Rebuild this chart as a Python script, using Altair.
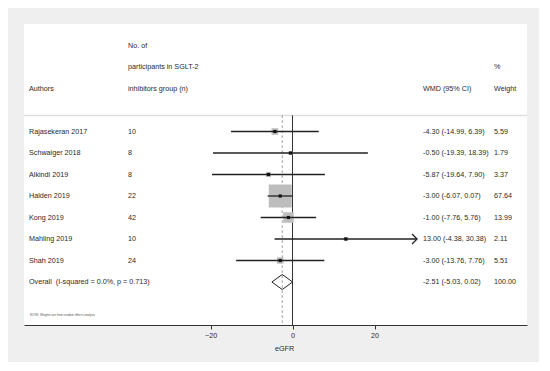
import altair as alt
import pandas as pd

authors = ["Rajasekeran 2017", "Schwaiger 2018", "Alkindi 2019", "Halden 2019",
           "Kong 2019", "Mahling 2019", "Shah 2019"]
n_sglt2 = [10, 8, 8, 22, 42, 10, 24]
wmd = [-4.30, -0.50, -5.87, -3.00, -1.00, 13.00, -3.00]
ci_lo = [-14.99, -19.39, -19.64, -6.07, -7.76, -4.38, -13.76]
ci_hi = [6.39, 18.39, 7.90, 0.07, 5.76, 30.38, 7.76]
weight = [5.59, 1.79, 3.37, 67.64, 13.99, 2.11, 5.51]

overall_label = "Overall\u00a0\u00a0(I-squared = 0.0%, p = 0.713)"
overall_est, overall_lo, overall_hi, overall_w = -2.51, -5.03, 0.02, 100.00

header_authors = ["Authors"]
header_n = ["No. of", "participants in SGLT-2", "inhibitors group (n)"]
header_wmd = ["WMD (95% CI)"]
header_w = ["%", "Weight"]
note = "NOTE: Weights are from random effects analysis"
x_ticks = [-20, 0, 20]

rows = list(range(len(authors)))
df = pd.DataFrame({
    "row": rows, "author": authors, "n": [str(v) for v in n_sglt2],
    "wmd": wmd, "lo": ci_lo, "hi": ci_hi, "weight": weight,
    "ci_text": [f"{w:.2f} ({l:.2f}, {h:.2f})" for w, l, h in zip(wmd, ci_lo, ci_hi)],
    "w_text": [f"{w:.2f}" for w in weight],
})
ov_row = len(authors)
ov = pd.DataFrame({
    "row": [ov_row], "label": [overall_label],
    "ci_text": [f"{overall_est:.2f} ({overall_lo:.2f}, {overall_hi:.2f})"],
    "w_text": [f"{overall_w:.2f}"],
})
half = 0.35
diamond = pd.DataFrame({
    "x": [overall_lo, overall_est, overall_hi, overall_est, overall_lo],
    "y": [ov_row, ov_row - half, ov_row, ov_row + half, ov_row],
    "o": [0, 1, 2, 3, 4],
})

sep_row = -0.75
bottom_row = 9
xs = alt.Scale(domain=[-65.5, 57.2], nice=False, zero=False)
ys = alt.Scale(domain=[-5, 9], reverse=True, nice=False, zero=False)

txt_color = "#2a2a2a"
fs = 7.2
FONT = "Liberation Sans"

xaxis = alt.Axis(values=x_ticks, grid=False, domainColor="#333333", tickColor="#333333",
                 tickSize=4, labelFontSize=fs, labelColor=txt_color, labelPadding=2,
                 title="eGFR", titleFontSize=fs, titleFontWeight="normal", titleColor=txt_color,
                 titleX=260, titleY=19, labelFont=FONT, titleFont=FONT)


def X(field):
    return alt.X(field, scale=xs, axis=xaxis)


def Y(field):
    return alt.Y(field, scale=ys, axis=None)


base = alt.Chart(df)

sep = alt.Chart(pd.DataFrame({"y": [sep_row]})).mark_rule(color="#dddddd", strokeWidth=1.5).encode(
    y=Y("y:Q"))

zero_line = alt.Chart(pd.DataFrame({"x": [0], "y": [sep_row], "y2": [bottom_row]})).mark_rule(
    color="#333333", strokeWidth=1).encode(x=X("x:Q"), y=Y("y:Q"), y2="y2:Q")

dash_line = alt.Chart(pd.DataFrame({"x": [overall_est], "y": [sep_row], "y2": [bottom_row]})).mark_rule(
    color="#999999", strokeWidth=1, strokeDash=[2.5, 2.5]).encode(x=X("x:Q"), y=Y("y:Q"), y2="y2:Q")

boxes = base.mark_square(color="#bdbdbd", opacity=1).encode(
    x=X("wmd:Q"), y=Y("row:Q"),
    size=alt.Size("weight:Q", scale=alt.Scale(domain=[0, 100], range=[0, 782]), legend=None))

ci = base.mark_rule(color="#222222", strokeWidth=1.3).encode(
    x=X("lo:Q"), x2="hi:Q", y=Y("row:Q"))

dots = base.mark_square(color="#111111", size=10, opacity=1).encode(
    x=X("wmd:Q"), y=Y("row:Q"))

arrows = base.transform_filter(alt.datum.hi > 25).mark_point(
    shape="M-1,-1L0,0L-1,1", size=100, color="#222222", strokeWidth=1.3, filled=False, opacity=1).encode(
    x=X("hi:Q"), y=Y("row:Q"))

dia = alt.Chart(diamond).mark_line(color="#222222", strokeWidth=1).encode(
    x=X("x:Q"), y=Y("y:Q"), order="o:Q")


def col_text(data, field, px, size=fs, color=txt_color):
    return alt.Chart(data).mark_text(align="left", baseline="middle", fontSize=size,
                                     font=FONT, color=color).encode(
        x=alt.value(px), y=Y("row:Q"), text=f"{field}:N")


t_auth = col_text(df, "author", 5)
t_n = col_text(df, "n", 104)
t_ci = col_text(df, "ci_text", 399)
t_w = col_text(df, "w_text", 470)
t_ov = col_text(ov, "label", 5)
t_ov_ci = col_text(ov, "ci_text", 399)
t_ov_w = col_text(ov, "w_text", 470)


def hdr(lines, px):
    d = pd.DataFrame({"row": list(range(-1 - len(lines), -1)), "t": lines})
    return col_text(d, "t", px)


h_auth = hdr(header_authors, 5)
h_n = hdr(header_n, 104)
h_ci = hdr(header_wmd, 399)
h_w = hdr(header_w, 470)

t_note = col_text(pd.DataFrame({"row": [8.5], "t": [note]}), "t", 6, size=3, color="#555555")

chart = alt.layer(
    sep, dash_line, zero_line, boxes, ci, dots, arrows, dia,
    t_auth, t_n, t_ci, t_w, t_ov, t_ov_ci, t_ov_w, h_auth, h_n, h_ci, h_w, t_note
).properties(
    width=503, height=301,
    padding={"left": 16, "top": 16, "right": 12, "bottom": 37},
    autosize=alt.AutoSizeParams(type="none"),
    background="#efefef",
).configure_view(fill="white", stroke=None)

chart.save("out.html", embed_options={"renderer": "svg", "actions": False})
